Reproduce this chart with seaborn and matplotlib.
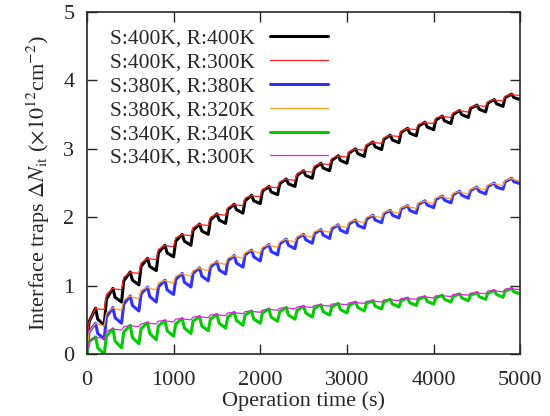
#############################################
########## 1. Import Libraries
#############################################
import numpy as np
import pandas as pd
import matplotlib
matplotlib.use("Agg")
import matplotlib.pyplot as plt
import seaborn as sns

#############################################
########## 2. Data
#############################################
# Each cycle = 100 s stress + 100 s recovery, sampled at
# cycle start, +25 s, +100 s (end of stress), +125 s; last point at 5000 s
n_cycles = 25
time_s = []
for k in range(n_cycles):
    time_s += [200 * k, 200 * k + 25, 200 * k + 100, 200 * k + 125]
time_s.append(5000)

# S:400K, R:400K
s400_r400 = [0.00, 0.47, 0.67, 0.51,  0.42, 0.80, 0.96, 0.83,  0.76, 1.07, 1.20, 1.08,
             1.01, 1.28, 1.40, 1.28,  1.22, 1.48, 1.59, 1.48,  1.42, 1.65, 1.75, 1.65,
             1.59, 1.81, 1.90, 1.80,  1.75, 1.96, 2.05, 1.96,  1.91, 2.11, 2.19, 2.11,
             2.06, 2.24, 2.32, 2.24,  2.20, 2.38, 2.45, 2.37,  2.33, 2.49, 2.56, 2.49,
             2.45, 2.61, 2.68, 2.61,  2.57, 2.72, 2.79, 2.72,  2.68, 2.83, 2.90, 2.83,
             2.79, 2.94, 3.00, 2.93,  2.89, 3.04, 3.10, 3.03,  2.99, 3.14, 3.20, 3.13,
             3.09, 3.24, 3.30, 3.23,  3.19, 3.33, 3.39, 3.32,  3.28, 3.42, 3.48, 3.41,
             3.37, 3.50, 3.56, 3.50,  3.46, 3.59, 3.64, 3.58,  3.54, 3.67, 3.72, 3.66,
             3.62, 3.75, 3.80, 3.75,  3.72]

# S:400K, R:300K
s400_r300 = [0.00, 0.47, 0.67, 0.66,  0.65, 0.87, 0.96, 0.95,  0.94, 1.12, 1.20, 1.19,
             1.18, 1.33, 1.40, 1.39,  1.38, 1.53, 1.59, 1.58,  1.57, 1.70, 1.75, 1.74,
             1.73, 1.85, 1.90, 1.89,  1.88, 2.00, 2.05, 2.04,  2.03, 2.14, 2.19, 2.18,
             2.17, 2.28, 2.32, 2.31,  2.30, 2.41, 2.45, 2.44,  2.43, 2.52, 2.56, 2.55,
             2.54, 2.64, 2.68, 2.67,  2.66, 2.75, 2.79, 2.78,  2.77, 2.86, 2.90, 2.89,
             2.88, 2.96, 3.00, 2.99,  2.98, 3.06, 3.10, 3.09,  3.08, 3.16, 3.20, 3.19,
             3.18, 3.26, 3.30, 3.29,  3.28, 3.36, 3.39, 3.38,  3.37, 3.45, 3.48, 3.47,
             3.46, 3.53, 3.56, 3.55,  3.54, 3.61, 3.64, 3.63,  3.62, 3.69, 3.72, 3.71,
             3.70, 3.77, 3.80, 3.79,  3.78]

# S:380K, R:380K
s380_r380 = [0.00, 0.32, 0.45, 0.30,  0.22, 0.54, 0.68, 0.53,  0.45, 0.73, 0.85, 0.71,
             0.63, 0.88, 0.98, 0.84,  0.76, 0.98, 1.08, 0.94,  0.87, 1.09, 1.18, 1.05,
             0.98, 1.18, 1.26, 1.14,  1.07, 1.27, 1.35, 1.23,  1.17, 1.36, 1.44, 1.33,
             1.27, 1.45, 1.52, 1.42,  1.36, 1.53, 1.60, 1.50,  1.45, 1.61, 1.68, 1.59,
             1.54, 1.69, 1.75, 1.67,  1.62, 1.76, 1.82, 1.74,  1.69, 1.83, 1.89, 1.81,
             1.77, 1.90, 1.96, 1.88,  1.84, 1.97, 2.03, 1.96,  1.92, 2.05, 2.10, 2.03,
             1.99, 2.12, 2.17, 2.10,  2.06, 2.19, 2.24, 2.18,  2.14, 2.26, 2.31, 2.25,
             2.21, 2.33, 2.38, 2.32,  2.28, 2.39, 2.44, 2.38,  2.34, 2.45, 2.50, 2.44,
             2.41, 2.52, 2.57, 2.52,  2.49]

# S:380K, R:320K
s380_r320 = [0.00, 0.32, 0.45, 0.44,  0.41, 0.60, 0.68, 0.66,  0.64, 0.79, 0.85, 0.83,
             0.81, 0.93, 0.98, 0.96,  0.94, 1.04, 1.08, 1.06,  1.04, 1.14, 1.18, 1.16,
             1.14, 1.22, 1.26, 1.24,  1.22, 1.31, 1.35, 1.33,  1.31, 1.40, 1.44, 1.42,
             1.40, 1.48, 1.52, 1.50,  1.48, 1.56, 1.60, 1.58,  1.56, 1.64, 1.68, 1.66,
             1.64, 1.72, 1.75, 1.73,  1.71, 1.79, 1.82, 1.80,  1.78, 1.86, 1.89, 1.87,
             1.85, 1.93, 1.96, 1.94,  1.92, 2.00, 2.03, 2.01,  1.99, 2.07, 2.10, 2.08,
             2.06, 2.14, 2.17, 2.15,  2.13, 2.21, 2.24, 2.22,  2.20, 2.28, 2.31, 2.29,
             2.27, 2.35, 2.38, 2.36,  2.34, 2.41, 2.44, 2.42,  2.40, 2.47, 2.50, 2.48,
             2.46, 2.54, 2.57, 2.55,  2.53]

# S:340K, R:340K
s340_r340 = [0.00, 0.18, 0.25, 0.09,  0.00, 0.26, 0.37, 0.19,  0.09, 0.32, 0.42, 0.24,
             0.15, 0.37, 0.46, 0.30,  0.21, 0.41, 0.49, 0.34,  0.26, 0.44, 0.52, 0.38,
             0.30, 0.48, 0.55, 0.41,  0.34, 0.51, 0.58, 0.45,  0.38, 0.54, 0.61, 0.49,
             0.42, 0.57, 0.63, 0.51,  0.45, 0.60, 0.66, 0.54,  0.48, 0.62, 0.68, 0.57,
             0.51, 0.64, 0.70, 0.60,  0.54, 0.67, 0.72, 0.62,  0.57, 0.69, 0.74, 0.65,
             0.60, 0.71, 0.76, 0.68,  0.63, 0.74, 0.78, 0.70,  0.66, 0.76, 0.80, 0.73,
             0.69, 0.78, 0.82, 0.75,  0.71, 0.80, 0.84, 0.77,  0.73, 0.82, 0.86, 0.80,
             0.76, 0.84, 0.88, 0.82,  0.78, 0.86, 0.90, 0.84,  0.80, 0.89, 0.93, 0.87,
             0.83, 0.92, 0.96, 0.91,  0.88]

# S:340K, R:300K
s340_r300 = [0.00, 0.18, 0.25, 0.24,  0.23, 0.33, 0.37, 0.36,  0.35, 0.40, 0.42, 0.41,
             0.40, 0.44, 0.46, 0.45,  0.44, 0.48, 0.49, 0.48,  0.47, 0.51, 0.52, 0.51,
             0.50, 0.54, 0.55, 0.54,  0.53, 0.57, 0.58, 0.57,  0.56, 0.60, 0.61, 0.60,
             0.59, 0.62, 0.63, 0.62,  0.61, 0.64, 0.66, 0.65,  0.64, 0.67, 0.68, 0.67,
             0.66, 0.69, 0.70, 0.69,  0.68, 0.71, 0.72, 0.71,  0.70, 0.73, 0.74, 0.73,
             0.72, 0.75, 0.76, 0.75,  0.74, 0.77, 0.78, 0.77,  0.76, 0.79, 0.80, 0.79,
             0.78, 0.81, 0.82, 0.81,  0.80, 0.83, 0.84, 0.83,  0.82, 0.85, 0.86, 0.85,
             0.84, 0.87, 0.88, 0.87,  0.86, 0.89, 0.90, 0.89,  0.88, 0.92, 0.93, 0.92,
             0.91, 0.95, 0.96, 0.95,  0.94]

labels = ["S:400K, R:400K", "S:400K, R:300K", "S:380K, R:380K",
          "S:380K, R:320K", "S:340K, R:340K", "S:340K, R:300K"]
series = [s400_r400, s400_r300, s380_r380, s380_r320, s340_r340, s340_r300]
colors = ["#000000", "#ff2020", "#3030ff", "#ffa020", "#00cc00", "#dd22dd"]
widths = [2.2, 0.9, 2.2, 0.9, 2.2, 0.9]

#############################################
########## 3. Plot
#############################################
sns.set_style("ticks")
plt.rcParams['font.family'] = ['Liberation Serif', 'DejaVu Serif']
plt.rcParams['mathtext.fontset'] = 'stix'

fig = plt.figure(figsize=(5.5, 4.16), dpi=100)
ax = fig.add_axes([0.158, 0.149, 0.788, 0.822])

for label, values, color, lw in zip(labels, series, colors, widths):
    df = pd.DataFrame({"time": time_s, "traps": values})
    sns.lineplot(data=df, x="time", y="traps", color=color, linewidth=lw,
                 label=label, ax=ax)

ax.set_xlim(0, 5000)
ax.set_ylim(0, 5)
ax.set_xticks([0, 1000, 2000, 3000, 4000, 5000])
ax.set_yticks([0, 1, 2, 3, 4, 5])
ax.tick_params(direction="in", top=True, right=True, length=7, width=1,
               labelsize=16)
ax.tick_params(axis="x", pad=12)
ax.tick_params(axis="y", pad=9)
for spine in ax.spines.values():
    spine.set_linewidth(1.2)
    spine.set_visible(True)

ax.set_xlabel("Operation time (s)", fontsize=16, labelpad=1)
ax.set_ylabel(r"Interface traps $\Delta N_{\rm it}$ ($\times 10^{12}$cm$^{-2}$)",
              fontsize=16, labelpad=8)

ax.legend(loc="upper left", frameon=False, markerfirst=False, fontsize=15.5,
          handlelength=2.7, handletextpad=0.7, labelspacing=0.18,
          borderaxespad=0.35, bbox_to_anchor=(0.016, 1.0))

plt.savefig("out.png", dpi=100)
